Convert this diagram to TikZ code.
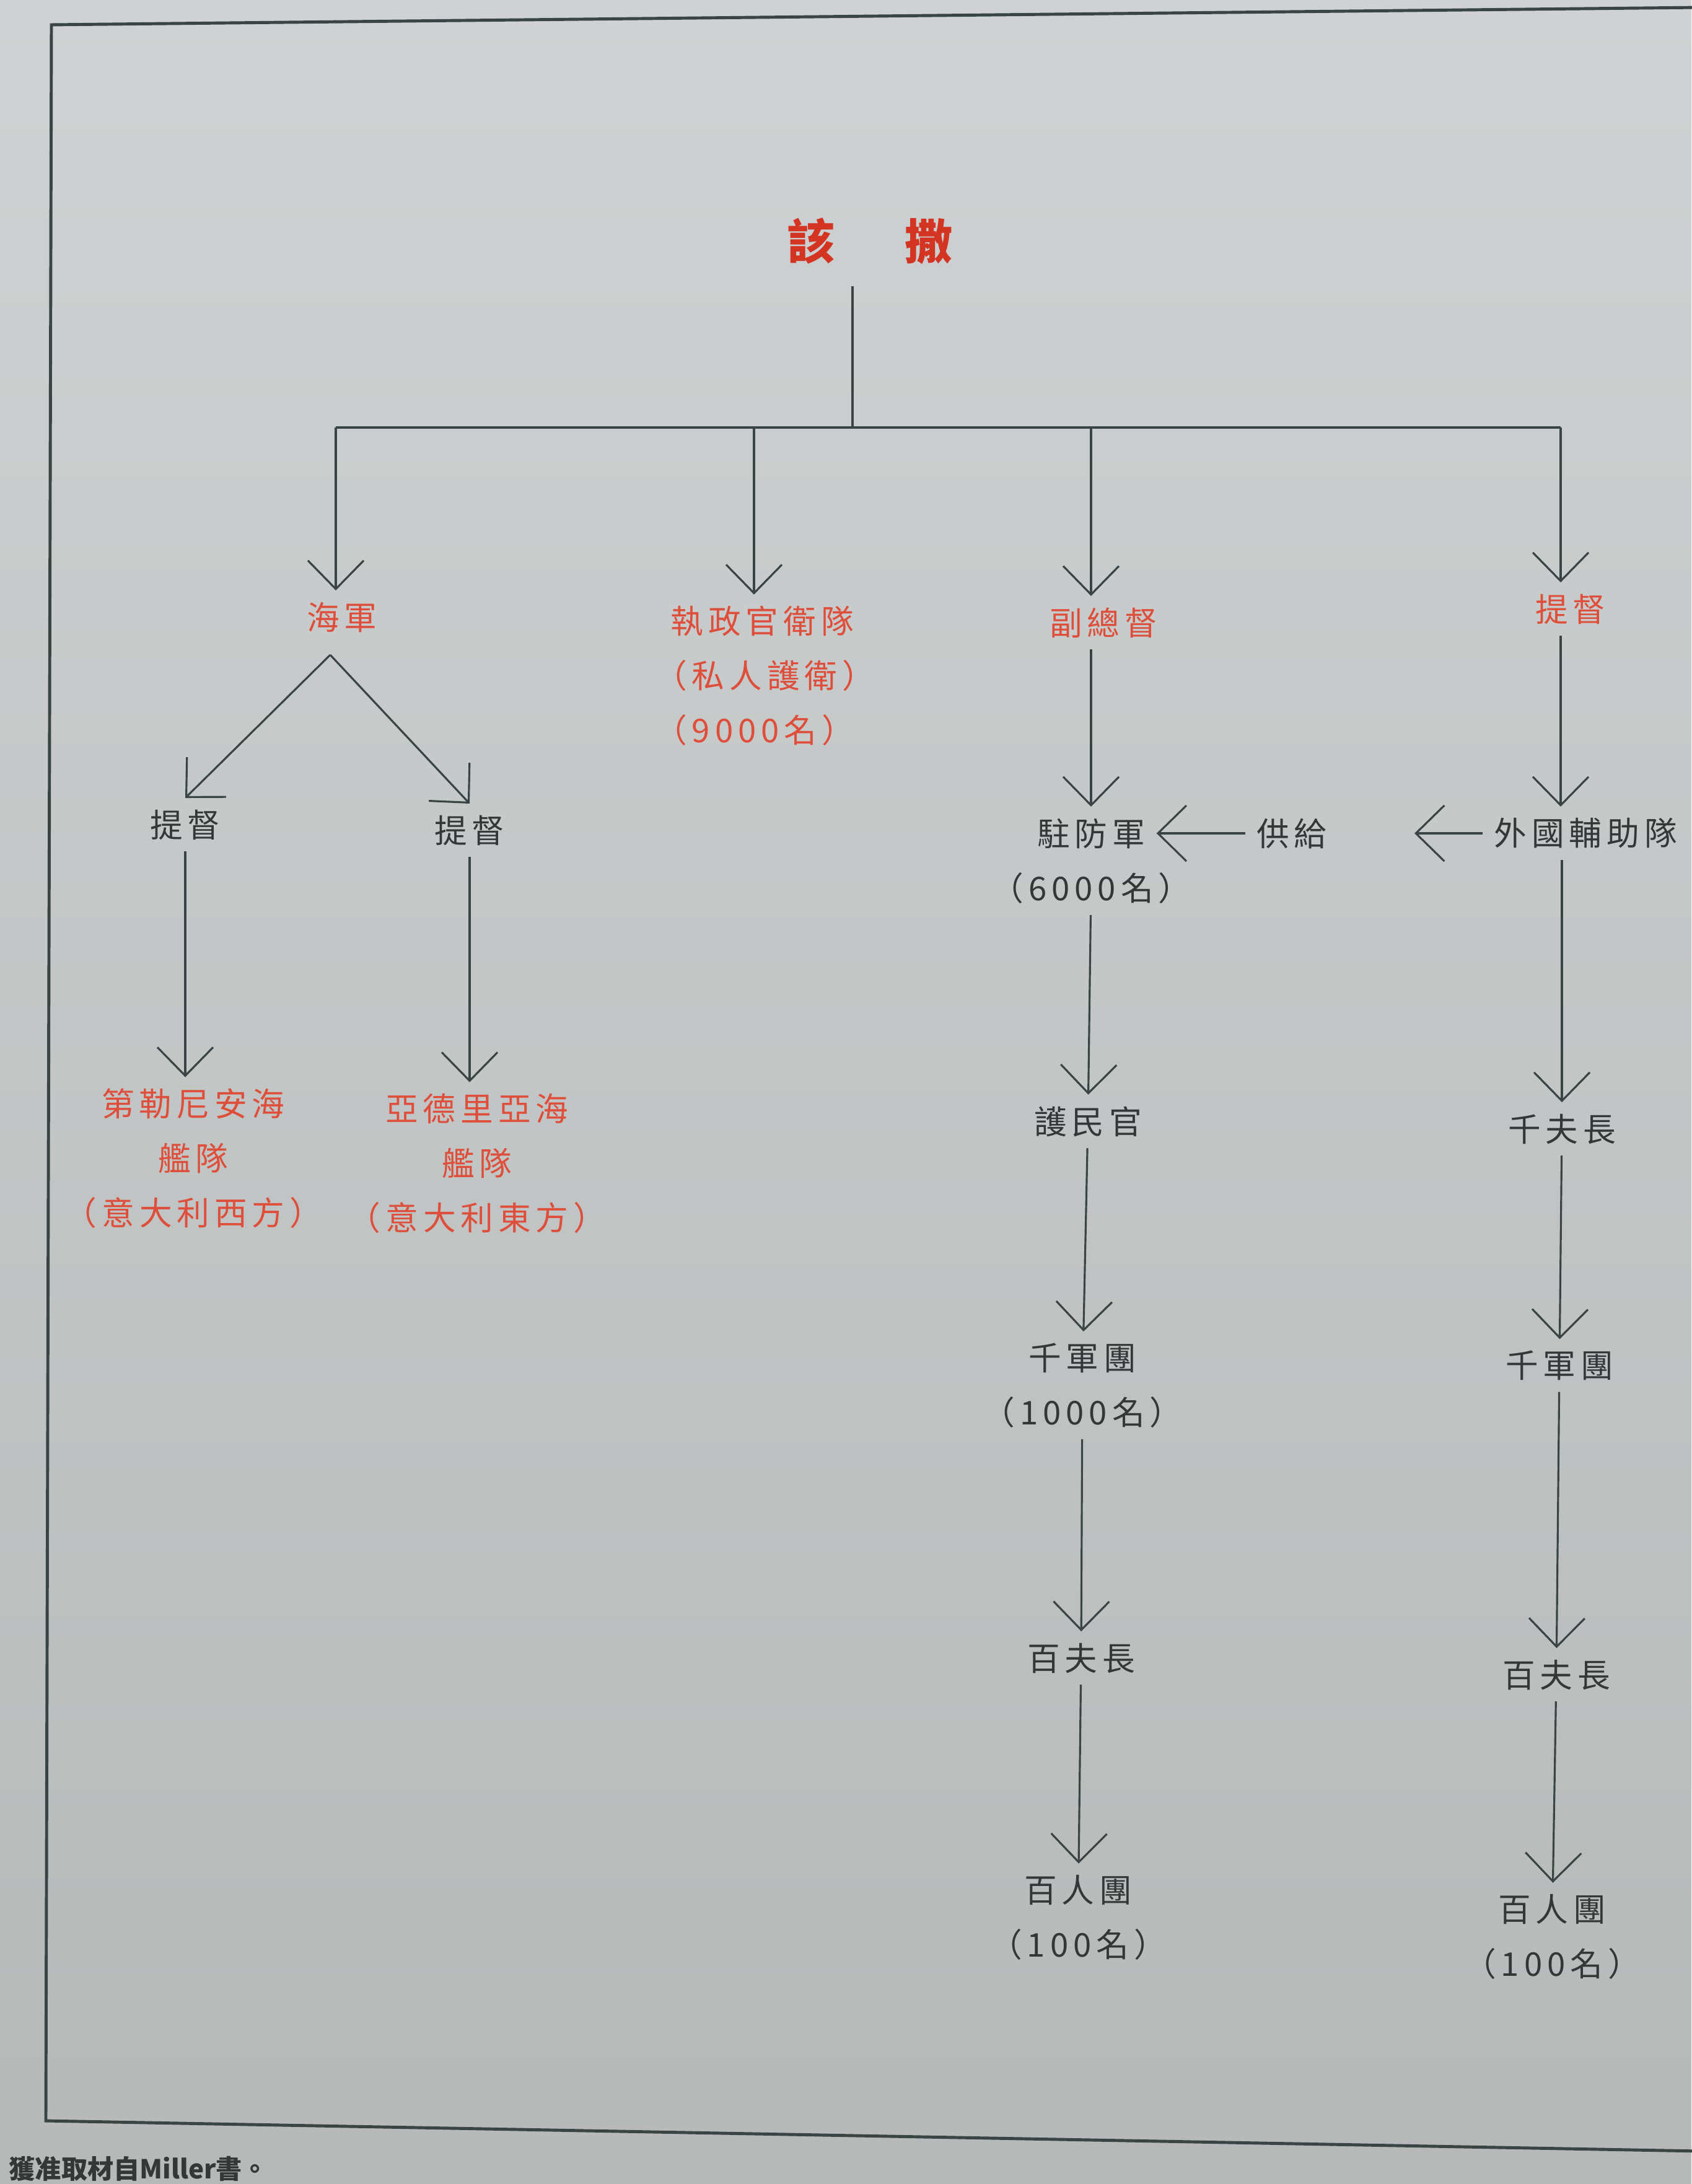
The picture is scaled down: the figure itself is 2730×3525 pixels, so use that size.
\documentclass[tikz,border=0pt]{standalone}
\usepackage{fontspec}
\usepackage{tikz}
\usetikzlibrary{arrows.meta}
\setmainfont[LetterSpace=15]{Noto Sans CJK TC}
\newfontfamily\plainfont{Noto Sans CJK TC}
\definecolor{papertop}{RGB}{206,210,210}
\definecolor{paperbot}{RGB}{182,185,184}
\definecolor{inkred}{RGB}{222,78,58}
\definecolor{titlered}{RGB}{212,52,34}
\definecolor{darkink}{RGB}{52,55,55}
\definecolor{linegrey}{RGB}{58,68,68}
\tikzstyle{title}=[text=titlered,inner sep=3.5mm,
                   font=\fontsize{22}{26}\selectfont\bfseries]
\tikzstyle{redlbl}=[text=inkred,inner sep=1.8mm,align=center,
                    font=\fontsize{15}{25}\selectfont]
\tikzstyle{greylbl}=[text=darkink,inner sep=1.8mm,align=center,
                     font=\fontsize{15}{25}\selectfont]
\tikzstyle{link}=[draw=linegrey,line width=0.9pt]
\tikzstyle{arr}=[link,-{Straight Barb[length=4.6mm,width=9mm]}]
\tikzstyle{frame}=[draw=linegrey,line width=1.4pt]

\begin{document}
\begin{tikzpicture}[x=0.1mm,y=-0.1mm]
    \newcommand{\pk}{\kern-0.5em}
    \useasboundingbox (0,0) rectangle (2730,3525);
    \shade[top color=papertop,bottom color=paperbot] (0,0) rectangle (2730,3525);
    \draw[frame] (2745,12) -- (83,40) -- (74,3423) -- (2745,3472);
    \node (caesar) at (1404,389) [title]{該\hspace{1.46em}撒};
    \coordinate (top) at (1376,690);
    \coordinate (b1) at (542,690);
    \coordinate (b2) at (1217,690);
    \coordinate (b3) at (1761,690);
    \coordinate (b4) at (2519,690);
    \coordinate (apex) at (533,1057);
    \coordinate (fgtip) at (2283,1345);
    \node (navy) at (552,996) [redlbl]{海軍};
    \node (guard) at (1064,1091) [redlbl,anchor=west,align=left]{執政官衛隊\\\pk（私人護衛）\\\pk（9000名）};
    \node (vice) at (1781,1005) [redlbl]{副總督};
    \node (adm) at (2535,983) [redlbl]{提督};
    \node (adm1) at (299,1331) [greylbl]{提督};
    \node (adm2) at (758,1340) [greylbl]{提督};
    \node (fleet1) at (312,1870) [redlbl]{第勒尼安海\\艦隊\\（意大利西方）};
    \node (fleet2) at (770,1878) [redlbl]{亞德里亞海\\艦隊\\（意大利東方）};
    \node (garrison) at (1761,1345) [greylbl]{駐防軍};
    \node (garrisonnum) at (1761,1433) [greylbl]{（6000名）};
    \node (supply) at (2085,1345) [greylbl]{供給};
    \node (tribune) at (1756,1810) [greylbl]{護民官};
    \node (legion3) at (1747,2236) [greylbl]{千軍團\\（1000名）};
    \node (cent3) at (1745,2676) [greylbl]{百夫長};
    \node (century3) at (1740,3095) [greylbl]{百人團\\（100名）};
    \node (foreign) at (2393,1345) [greylbl,anchor=west]{外國輔助隊};
    \node (chil) at (2521,1822) [greylbl]{千夫長};
    \node (legion4) at (2517,2204) [greylbl]{千軍團};
    \node (cent4) at (2512,2703) [greylbl]{百夫長};
    \node (century4) at (2505,3126) [greylbl]{百人團\\（100名）};
    \node (credit) at (14,3500) [anchor=west,inner sep=0pt,text=darkink,
        font=\fontsize{12}{14}\plainfont\bfseries]{獲准取材自Miller書。};
    \draw[link] (caesar.south -| top) -- (top);
    \draw[link] (b1) -- (b4);
    \draw[arr] (b1) -- (b1 |- navy.north);
    \draw[arr] (b2) -- (b2 |- guard.north);
    \draw[arr] (b3) -- (b3 |- vice.north);
    \draw[arr] (b4) -- (b4 |- adm.north);
    \draw[arr] (apex) -- (adm1.north);
    \draw[arr] (apex) -- (adm2.north);
    \draw[arr] (adm1) -- (adm1 |- fleet1.north);
    \draw[arr] (adm2) -- (adm2 |- fleet2.north);
    \draw[arr] (vice.south -| garrison) -- (garrison);
    \draw[arr] (supply) -- (garrison);
    \draw[arr] (garrisonnum) -- (tribune);
    \draw[arr] (tribune) -- (legion3);
    \draw[arr] (legion3) -- (cent3);
    \draw[arr] (cent3) -- (century3);
    \draw[arr] (adm.south -| b4) -- (b4 |- foreign.north);
    \draw[arr] (foreign) -- (fgtip);
    \draw[arr] (chil |- foreign.south) -- (chil);
    \draw[arr] (chil) -- (legion4);
    \draw[arr] (legion4) -- (cent4);
    \draw[arr] (cent4) -- (century4);
\end{tikzpicture}
\end{document}
